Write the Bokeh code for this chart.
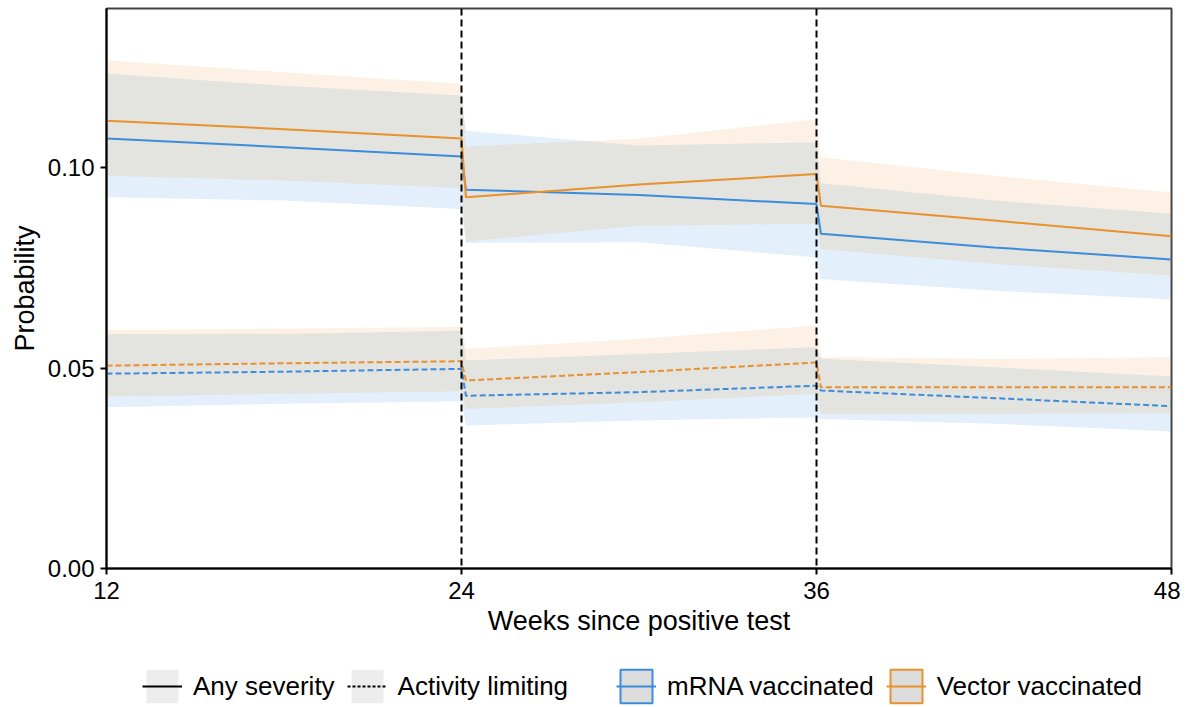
from bokeh.plotting import figure
from bokeh.layouts import column
from bokeh.models import Range1d, FixedTicker, NumeralTickFormatter, Span, Legend, LegendItem
from bokeh.embed import file_html
from bokeh.resources import INLINE

# ---- data ----
weeks = [12, 18, 24, 24.15, 30, 36, 36.15, 42, 48]

mrna_any = [0.1073, 0.1051, 0.1028, 0.0945, 0.0932, 0.0909, 0.0835, 0.0801, 0.0771]
mrna_any_lo = [0.0926, 0.0918, 0.0897, 0.0812, 0.0814, 0.0776, 0.0722, 0.0693, 0.0671]
mrna_any_hi = [0.1235, 0.1204, 0.1180, 0.1092, 0.1055, 0.1063, 0.0961, 0.0918, 0.0885]

vector_any = [0.1117, 0.1096, 0.1073, 0.0926, 0.0958, 0.0984, 0.0905, 0.0868, 0.0829]
vector_any_lo = [0.0980, 0.0968, 0.0949, 0.0816, 0.0855, 0.0860, 0.0797, 0.0760, 0.0731]
vector_any_hi = [0.1268, 0.1238, 0.1209, 0.1053, 0.1072, 0.1121, 0.1026, 0.0980, 0.0938]

mrna_act = [0.0486, 0.0491, 0.0498, 0.0431, 0.0440, 0.0456, 0.0444, 0.0425, 0.0405]
mrna_act_lo = [0.0402, 0.0411, 0.0417, 0.0357, 0.0369, 0.0377, 0.0373, 0.0361, 0.0342]
mrna_act_hi = [0.0585, 0.0585, 0.0593, 0.0519, 0.0535, 0.0552, 0.0523, 0.0502, 0.0479]

vector_act = [0.0506, 0.0512, 0.0517, 0.0469, 0.0490, 0.0514, 0.0452, 0.0452, 0.0452]
vector_act_lo = [0.0429, 0.0436, 0.0442, 0.0398, 0.0415, 0.0436, 0.0386, 0.0386, 0.0387]
vector_act_hi = [0.0595, 0.0598, 0.0603, 0.0548, 0.0573, 0.0606, 0.0527, 0.0523, 0.0527]

x_ticks = [12, 24, 36, 48]
y_ticks = [0.0, 0.05, 0.10]
cutoffs = [24, 36]

BLUE = "#3B8CDB"
ORANGE = "#E8912D"
FONT = "Liberation Sans"

p = figure(width=1180, height=646, output_backend="svg", toolbar_location=None,
           x_range=Range1d(12, 48), y_range=Range1d(0, 0.1397),
           min_border_left=106, min_border_right=9, min_border_top=8, min_border_bottom=78)
p.xgrid.visible = False
p.ygrid.visible = False
p.outline_line_color = "#444444"
p.outline_line_width = 2
p.background_fill_color = "white"

# ribbons
p.varea(x=weeks, y1=mrna_any_lo, y2=mrna_any_hi, fill_color=BLUE, fill_alpha=0.14)
p.varea(x=weeks, y1=mrna_act_lo, y2=mrna_act_hi, fill_color=BLUE, fill_alpha=0.14)
p.varea(x=weeks, y1=vector_any_lo, y2=vector_any_hi, fill_color=ORANGE, fill_alpha=0.13)
p.varea(x=weeks, y1=vector_act_lo, y2=vector_act_hi, fill_color=ORANGE, fill_alpha=0.13)

# lines
p.line(weeks, mrna_any, line_color=BLUE, line_width=2)
p.line(weeks, vector_any, line_color=ORANGE, line_width=2)
p.line(weeks, mrna_act, line_color=BLUE, line_width=2, line_dash="6 3")
p.line(weeks, vector_act, line_color=ORANGE, line_width=2, line_dash="6 3")

for c in cutoffs:
    p.add_layout(Span(location=c, dimension="height", line_color="black",
                      line_width=2, line_dash="7 4"))

# axes
p.xaxis.ticker = FixedTicker(ticks=x_ticks)
p.yaxis.ticker = FixedTicker(ticks=y_ticks)
p.yaxis.formatter = NumeralTickFormatter(format="0.00")
for ax in (p.xaxis[0], p.yaxis[0]):
    ax.axis_line_color = "black"
    ax.axis_line_width = 2
    ax.major_tick_line_color = "black"
    ax.major_tick_line_width = 2
    ax.major_tick_out = 6
    ax.major_tick_in = 0
    ax.minor_tick_line_color = None
    ax.major_label_text_font = FONT
    ax.major_label_text_font_size = "24px"
    ax.major_label_text_color = "black"
    ax.axis_label_text_font = FONT
    ax.axis_label_text_font_size = "27px"
    ax.axis_label_text_font_style = "normal"
    ax.axis_label_text_color = "black"
p.xaxis.axis_label = "Weeks since positive test"
p.yaxis.axis_label = "Probability"
p.xaxis.major_label_standoff = 7
p.yaxis.major_label_standoff = 6
p.xaxis.axis_label_standoff = 4
p.yaxis.axis_label_standoff = 5

# ---- legend strip (its frame is aligned with the chart's frame by the column) ----
lp = figure(width=1180, height=61, output_backend="svg", toolbar_location=None,
            x_range=Range1d(0, 1), y_range=Range1d(0, 1),
            min_border_left=106, min_border_right=9, min_border_top=0, min_border_bottom=0)
lp.axis.visible = False
lp.xgrid.visible = False
lp.ygrid.visible = False
lp.outline_line_color = None

# legend-only helper glyphs, placed outside the visible range
off = dict(left=[5], right=[6], top=[6], bottom=[5])
key_any_bg = lp.quad(**off, fill_color="#EDEDED", line_color=None)
key_any = lp.line([5, 6], [5, 5], line_color="black", line_width=2)
key_act = lp.line([5, 6], [5, 5], line_color="black", line_width=2, line_dash="3 2")
key_mrna_box = lp.quad(**off, fill_color="#DCDCDC", line_color=BLUE, line_width=2)
key_mrna_line = lp.line([5, 6], [5, 5], line_color=BLUE, line_width=2)
key_vec_box = lp.quad(**off, fill_color="#DCDCDC", line_color=ORANGE, line_width=2)
key_vec_line = lp.line([5, 6], [5, 5], line_color=ORANGE, line_width=2)

def make_legend(items, x):
    lg = Legend(items=items, location=(x, 0), orientation="horizontal",
                glyph_width=40, glyph_height=42, label_standoff=11, spacing=12,
                padding=0, margin=0, border_line_color=None, background_fill_alpha=0,
                label_text_font=FONT, label_text_font_size="26px", label_text_color="black")
    lp.add_layout(lg)

make_legend([LegendItem(label="Any severity", renderers=[key_any_bg, key_any]),
             LegendItem(label="Activity limiting", renderers=[key_any_bg, key_act])], 36)
make_legend([LegendItem(label="mRNA vaccinated", renderers=[key_mrna_box, key_mrna_line]),
             LegendItem(label="Vector vaccinated", renderers=[key_vec_box, key_vec_line])], 510)

layout = column(p, lp, spacing=0)
open("out.html", "w").write(file_html(layout, INLINE))
